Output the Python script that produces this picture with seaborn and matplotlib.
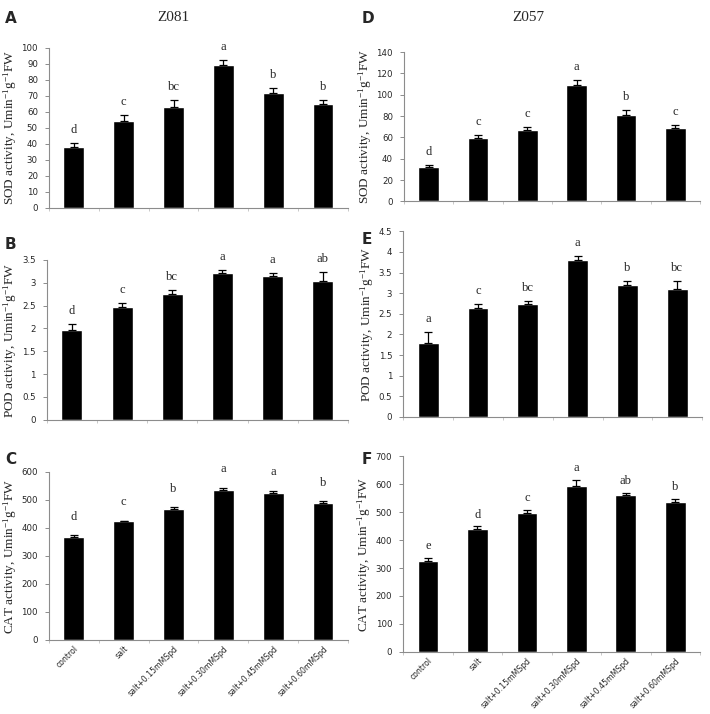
import numpy as np
import pandas as pd
import matplotlib
matplotlib.use("Agg")
import matplotlib.pyplot as plt
import seaborn as sns

groups = ["control", "salt", "salt+0.15mMSpd", "salt+0.30mMSpd",
          "salt+0.45mMSpd", "salt+0.60mMSpd"]

# Z081
sod_z081 = [38, 54, 63, 89.5, 72, 65]
sod_z081_err = [2.5, 4, 4.5, 3, 3, 2.5]
sod_z081_let = ["d", "c", "bc", "a", "b", "b"]
pod_z081 = [1.97, 2.46, 2.76, 3.21, 3.14, 3.04]
pod_z081_err = [0.12, 0.1, 0.09, 0.06, 0.08, 0.2]
pod_z081_let = ["d", "c", "bc", "a", "a", "ab"]
cat_z081 = [367, 423, 466, 534, 524, 489]
cat_z081_err = [7, 3, 7, 10, 9, 7]
cat_z081_let = ["d", "c", "b", "a", "a", "b"]

# Z057
sod_z057 = [32, 59, 67, 109, 81, 69]
sod_z057_err = [2, 3.5, 3, 5, 5, 2.5]
sod_z057_let = ["d", "c", "c", "a", "b", "c"]
pod_z057 = [1.8, 2.65, 2.75, 3.8, 3.2, 3.1]
pod_z057_err = [0.25, 0.08, 0.07, 0.1, 0.1, 0.2]
pod_z057_let = ["a", "c", "bc", "a", "b", "bc"]
cat_z057 = [326, 440, 496, 594, 561, 538]
cat_z057_err = [10, 10, 12, 22, 8, 9]
cat_z057_let = ["e", "d", "c", "a", "ab", "b"]

sns.set_style("white")
plt.rcParams["font.family"] = ["DejaVu Sans"]
plt.rcParams["mathtext.fontset"] = "custom"
plt.rcParams["mathtext.rm"] = "Liberation Serif"
plt.rcParams["mathtext.it"] = "Liberation Serif:italic"
plt.rcParams["mathtext.bf"] = "Liberation Serif:bold"

fig = plt.figure(figsize=(7.1, 7.14), dpi=100)

unit = r"activity, Umin$\mathrm{^{-1}}$g$\mathrm{^{-1}}$FW"
panels = [
    # letter, rect, values, err, letters, ylim, step, ylabel, xlabels, letter offset
    ("A", [0.069, 0.709, 0.421, 0.224], sod_z081, sod_z081_err, sod_z081_let, 100, 10, "SOD " + unit, False, 5),
    ("D", [0.569, 0.718, 0.417, 0.209], sod_z057, sod_z057_err, sod_z057_let, 140, 20, "SOD " + unit, False, 5),
    ("B", [0.066, 0.412, 0.424, 0.224], pod_z081, pod_z081_err, pod_z081_let, 3.5, 0.5, "POD " + unit, False, 5),
    ("E", [0.568, 0.416, 0.421, 0.260], pod_z057, pod_z057_err, pod_z057_let, 4.5, 0.5, "POD " + unit, False, 5),
    ("C", [0.069, 0.104, 0.421, 0.235], cat_z081, cat_z081_err, cat_z081_let, 600, 100, "CAT " + unit, True, 9),
    ("F", [0.568, 0.087, 0.418, 0.274], cat_z057, cat_z057_err, cat_z057_let, 700, 100, "CAT " + unit, True, 4),
]

letter_pos = {"A": (0.007, 0.985), "D": (0.510, 0.985), "B": (0.007, 0.668),
              "E": (0.510, 0.675), "C": (0.007, 0.367), "F": (0.510, 0.367)}

for name, rect, vals, err, lets, ymax, step, ylab, show_x, off in panels:
    ax = fig.add_axes(rect)
    df = pd.DataFrame({"group": groups, "value": vals})
    sns.barplot(data=df, x="group", y="value", order=groups, color="black",
                width=0.42, errorbar=None, ax=ax, saturation=1)
    x = np.arange(len(groups))
    ax.errorbar(x, vals, yerr=[np.zeros(len(vals)), err], fmt="none",
                ecolor="black", elinewidth=0.9, capsize=3, capthick=0.9)
    for xi, v, e, l in zip(x, vals, err, lets):
        ax.annotate(l, (xi, v + e), xytext=(0, off), textcoords="offset points",
                    ha="center", va="bottom", fontsize=9,
                    family="Liberation Serif")
    ax.set_xlim(-0.5, 5.5)
    ax.set_ylim(0, ymax)
    ticks = np.arange(0, ymax + step / 2, step)
    ax.set_yticks(ticks)
    ax.set_yticklabels([f"{t:g}" for t in ticks], fontsize=6.2)
    ax.set_xlabel("")
    ax.set_ylabel(ylab, fontsize=9.5, family="Liberation Serif", labelpad=2)
    for s in ["top", "right"]:
        ax.spines[s].set_visible(False)
    for s in ["left", "bottom"]:
        ax.spines[s].set_color("#8c8c8c")
        ax.spines[s].set_linewidth(0.8)
    ax.tick_params(axis="y", direction="out", length=3, width=0.7,
                   color="#8c8c8c", pad=5, left=True)
    ax.set_xticks(np.arange(-0.5, 6, 1), minor=True)
    ax.tick_params(axis="x", which="minor", direction="out", length=2,
                   color="#c0c0c0", bottom=True)
    ax.tick_params(axis="x", which="major", length=0, pad=3)
    if show_x:
        ax.set_xticklabels(groups, rotation=45, ha="right",
                           rotation_mode="anchor", fontsize=5.6)
    else:
        ax.set_xticklabels([])
    fig.text(*letter_pos[name], name, fontsize=11, fontweight="bold",
             ha="left", va="top")

fig.text(0.244, 0.985, "Z081", fontsize=11, family="Liberation Serif",
         ha="center", va="top")
fig.text(0.744, 0.985, "Z057", fontsize=11, family="Liberation Serif",
         ha="center", va="top")

fig.savefig("out.png", dpi=100, facecolor="white")
